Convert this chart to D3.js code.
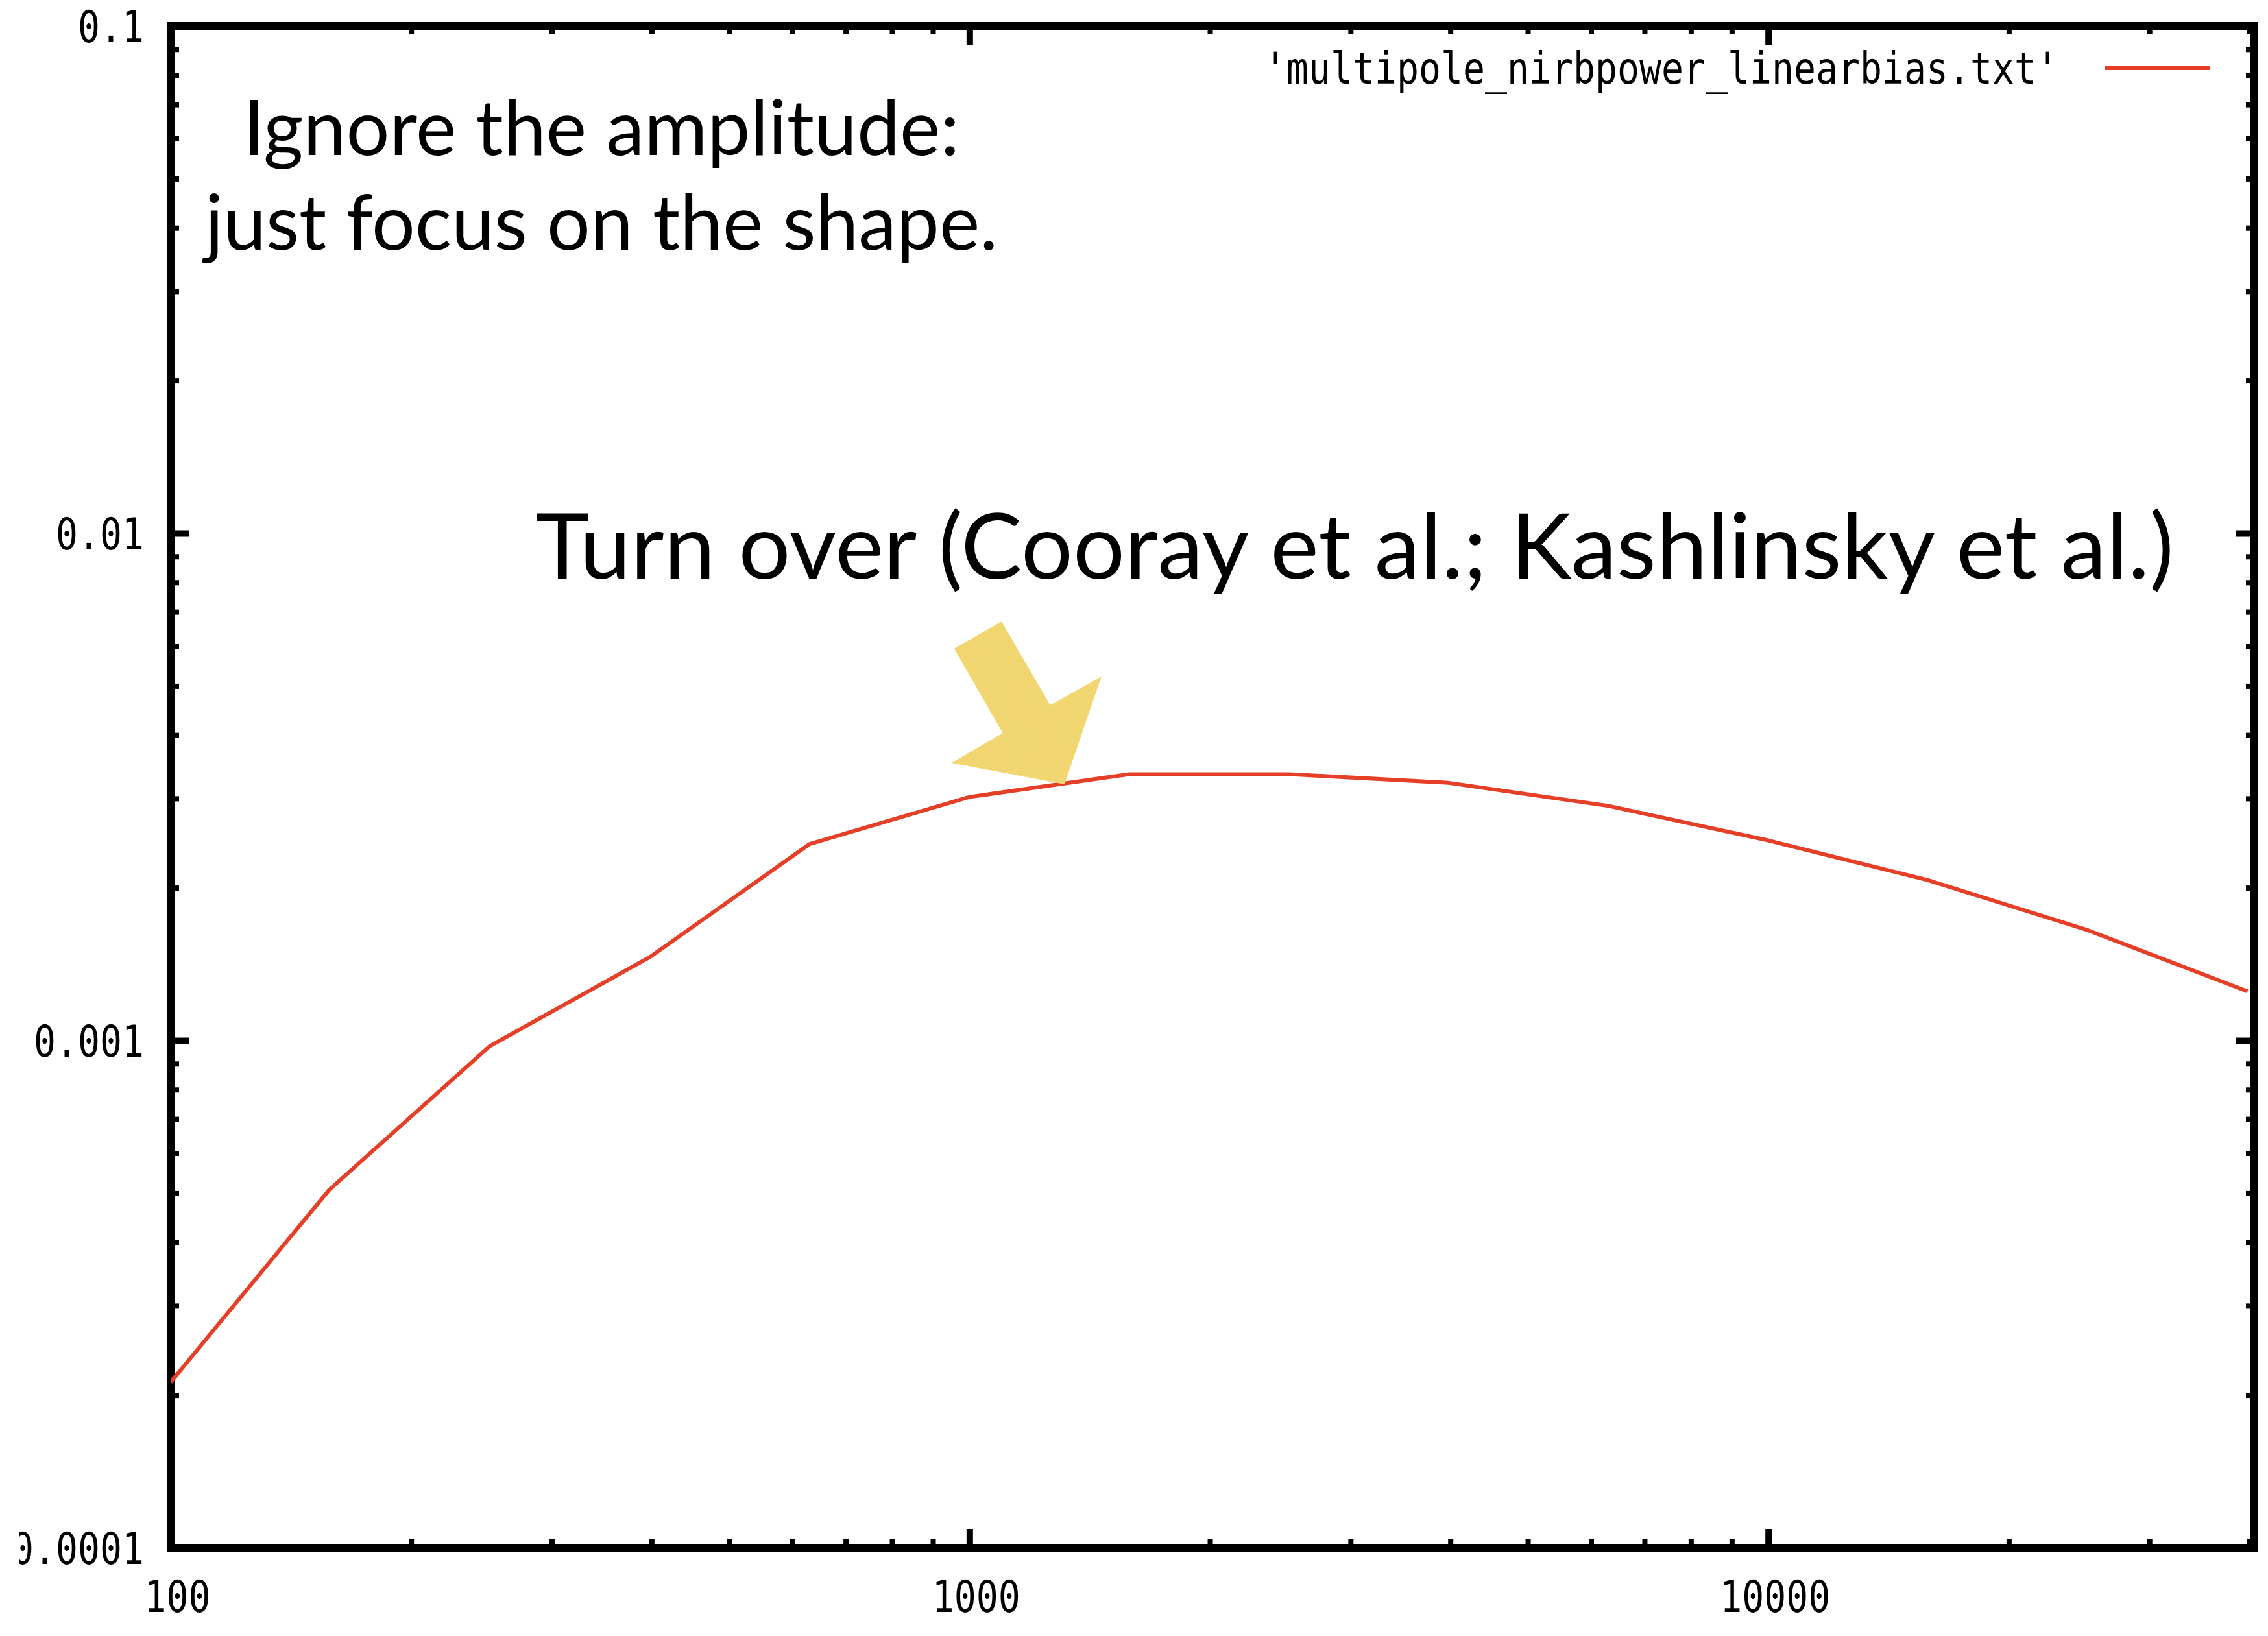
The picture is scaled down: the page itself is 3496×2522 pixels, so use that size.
<!DOCTYPE html>
<html>
<head>
<meta charset="utf-8">
<script src="https://cdn.jsdelivr.net/npm/d3@7"></script>
<style>
  html, body { margin: 0; padding: 0; background: #fff; }
  svg { display: block; }
</style>
</head>
<body>
<svg id="chart" width="3496" height="2522"></svg>
<script>
const multipoles = [100, 158, 251, 398, 631, 1000, 1585, 2512, 3981, 6310, 10000, 15849, 25119, 39811];
const power = [2.12e-4, 5.08e-4, 9.75e-4, 1.46e-3, 2.44e-3, 3.02e-3, 3.35e-3, 3.35e-3, 3.22e-3, 2.90e-3, 2.48e-3, 2.07e-3, 1.65e-3, 1.25e-3];

const xMajor = [100, 1000, 10000];
const xLabels = ['100', '1000', '10000'];
const yMajor = [0.0001, 0.001, 0.01, 0.1];
const yLabels = ['0.0001', '0.001', '0.01', '0.1'];
const xDomain = [100, 40600];
const yDomain = [0.0001, 0.1];

const seriesName = "'multipole_nirbpower_linearbias.txt'";
const noteLines = ['Ignore the amplitude:', 'just focus on the shape.'];
const turnOver = 'Turn over (Cooray et al.; Kashlinsky et al.)';
const arrowTip = [1315, 0.0032];

const plotLeft = 263, plotRight = 3475, plotTop = 40, plotBottom = 2386;
const red = '#e53f27';
const mono = '"DejaVu Sans Mono", "Liberation Mono", monospace';
const monoSize = 68;
const charW = 34;

const svg = d3.select('#chart');

const x = d3.scaleLog().domain(xDomain).range([plotLeft, plotRight]);
const y = d3.scaleLog().domain(yDomain).range([plotBottom, plotTop]);

// Minor ticks 2..9 in every decade inside the domain
function minors(domain) {
  const out = [];
  for (let d = Math.floor(Math.log10(domain[0])); d < Math.ceil(Math.log10(domain[1])); d++) {
    for (let k = 2; k <= 9; k++) {
      const v = k * Math.pow(10, d);
      if (v > domain[0] && v < domain[1]) out.push(v);
    }
  }
  return out;
}
const xMinor = minors(xDomain);
const yMinor = minors(yDomain);

// Gnuplot-like mirrored inward ticks (no labels)
function tickAxis(axis, values, size, width, translate) {
  const g = svg.append('g')
    .attr('transform', translate)
    .call(axis.tickValues(values).tickSize(-size).tickFormat(''));
  g.select('.domain').remove();
  g.selectAll('text').remove();
  g.selectAll('line').attr('stroke', '#000').attr('stroke-width', width);
  return g;
}

tickAxis(d3.axisBottom(x), xMinor, 13, 8, `translate(0,${plotBottom})`);
tickAxis(d3.axisTop(x), xMinor, 13, 8, `translate(0,${plotTop})`);
tickAxis(d3.axisLeft(y), yMinor, 13, 8, `translate(${plotLeft},0)`);
tickAxis(d3.axisRight(y), yMinor, 13, 8, `translate(${plotRight},0)`);
tickAxis(d3.axisTop(x), xMajor, 29, 10, `translate(0,${plotTop})`);
tickAxis(d3.axisRight(y), yMajor, 29, 10, `translate(${plotRight},0)`);

// Major ticks with labels; the slide crops the lowest y label at the left
svg.append('clipPath').attr('id', 'labelClip')
  .append('rect').attr('x', 30 - plotLeft).attr('y', -100).attr('width', 3466).attr('height', 2722);

const xAxis = svg.append('g')
  .attr('transform', `translate(0,${plotBottom})`)
  .call(d3.axisBottom(x).tickValues(xMajor).tickSize(-29).tickPadding(0)
    .tickFormat((d, i) => xLabels[i]));
xAxis.select('.domain').remove();
xAxis.selectAll('line').attr('stroke', '#000').attr('stroke-width', 10);
xAxis.selectAll('text')
  .attr('y', 75).attr('dx', 10).attr('dy', '0.36em')
  .attr('fill', '#000')
  .attr('font-family', mono).attr('font-size', monoSize)
  .attr('textLength', (d, i) => xLabels[i].length * charW)
  .attr('lengthAdjust', 'spacingAndGlyphs');

const yAxis = svg.append('g')
  .attr('transform', `translate(${plotLeft},0)`)
  .attr('clip-path', 'url(#labelClip)')
  .call(d3.axisLeft(y).tickValues(yMajor).tickSize(-29).tickPadding(41)
    .tickFormat((d, i) => yLabels[i]));
yAxis.select('.domain').remove();
yAxis.selectAll('line').attr('stroke', '#000').attr('stroke-width', 10);
yAxis.selectAll('text')
  .attr('dy', '0.36em')
  .attr('fill', '#000')
  .attr('font-family', mono).attr('font-size', monoSize)
  .attr('textLength', (d, i) => yLabels[i].length * charW)
  .attr('lengthAdjust', 'spacingAndGlyphs');

// Plot frame
svg.append('rect')
  .attr('x', plotLeft).attr('y', plotTop)
  .attr('width', plotRight - plotLeft).attr('height', plotBottom - plotTop)
  .attr('fill', 'none').attr('stroke', '#000').attr('stroke-width', 12);

// Curve
svg.append('clipPath').attr('id', 'plotClip')
  .append('rect').attr('x', plotLeft).attr('y', plotTop)
  .attr('width', plotRight - plotLeft).attr('height', plotBottom - plotTop);

const line = d3.line()
  .x((d, i) => x(multipoles[i]))
  .y(d => y(d));

svg.append('path')
  .datum(power)
  .attr('clip-path', 'url(#plotClip)')
  .attr('fill', 'none')
  .attr('stroke', red)
  .attr('stroke-width', 6)
  .attr('stroke-linejoin', 'round')
  .attr('d', line);

// Key: squeeze the monospace text to the gnuplot character pitch
const keyText = svg.append('text')
  .attr('text-anchor', 'end')
  .attr('dy', '0.36em')
  .attr('font-family', mono).attr('font-size', monoSize)
  .text(seriesName);
const keyScale = seriesName.length * charW / keyText.node().getComputedTextLength();
keyText.attr('transform', `translate(3173,105) scale(${keyScale},1)`);
svg.append('line')
  .attr('x1', 3244).attr('x2', 3407).attr('y1', 105).attr('y2', 105)
  .attr('stroke', red).attr('stroke-width', 6);

// Slide annotations
const sans = 'Lato, "Open Sans", sans-serif';
const noteWidths = [1104, 1222];
svg.append('g')
  .selectAll('text')
  .data(noteLines)
  .join('text')
  .attr('x', 927)
  .attr('y', (d, i) => 239 + i * 146)
  .attr('text-anchor', 'middle')
  .attr('font-family', sans).attr('font-size', 118)
  .attr('textLength', (d, i) => noteWidths[i])
  .attr('lengthAdjust', 'spacingAndGlyphs')
  .text(d => d);

svg.append('text')
  .attr('x', 825).attr('y', 892)
  .attr('font-family', sans).attr('font-size', 140)
  .attr('textLength', 2526)
  .attr('lengthAdjust', 'spacingAndGlyphs')
  .text(turnOver);

// Yellow arrow pointing at the turn-over
const tx = x(arrowTip[0]), ty = y(arrowTip[1]);
const arrowShape = [[-97, -251], [-170, -209], [-95, -79], [-174, -33], [0, 0], [57, -166], [-22, -122]];
const defs = svg.append('defs');
const tex = defs.append('filter').attr('id', 'paper')
  .attr('x', '-10%').attr('y', '-10%').attr('width', '120%').attr('height', '120%');
tex.append('feTurbulence').attr('type', 'fractalNoise').attr('baseFrequency', 0.02)
  .attr('numOctaves', 3).attr('seed', 4).attr('result', 'noise');
tex.append('feColorMatrix').attr('in', 'noise').attr('type', 'matrix')
  .attr('values', '0 0 0 0 0.85  0 0 0 0 0.72  0 0 0 0 0.2  0 0 0 0.25 0')
  .attr('result', 'tint');
tex.append('feComposite').attr('in', 'tint').attr('in2', 'SourceGraphic')
  .attr('operator', 'in').attr('result', 'spots');
tex.append('feMerge').call(m => {
  m.append('feMergeNode').attr('in', 'SourceGraphic');
  m.append('feMergeNode').attr('in', 'spots');
});

svg.append('path')
  .attr('d', d3.line()(arrowShape.map(([dx, dy]) => [tx + dx, ty + dy])) + 'Z')
  .attr('fill', '#f2d670')
  .attr('filter', 'url(#paper)');
</script>
</body>
</html>
